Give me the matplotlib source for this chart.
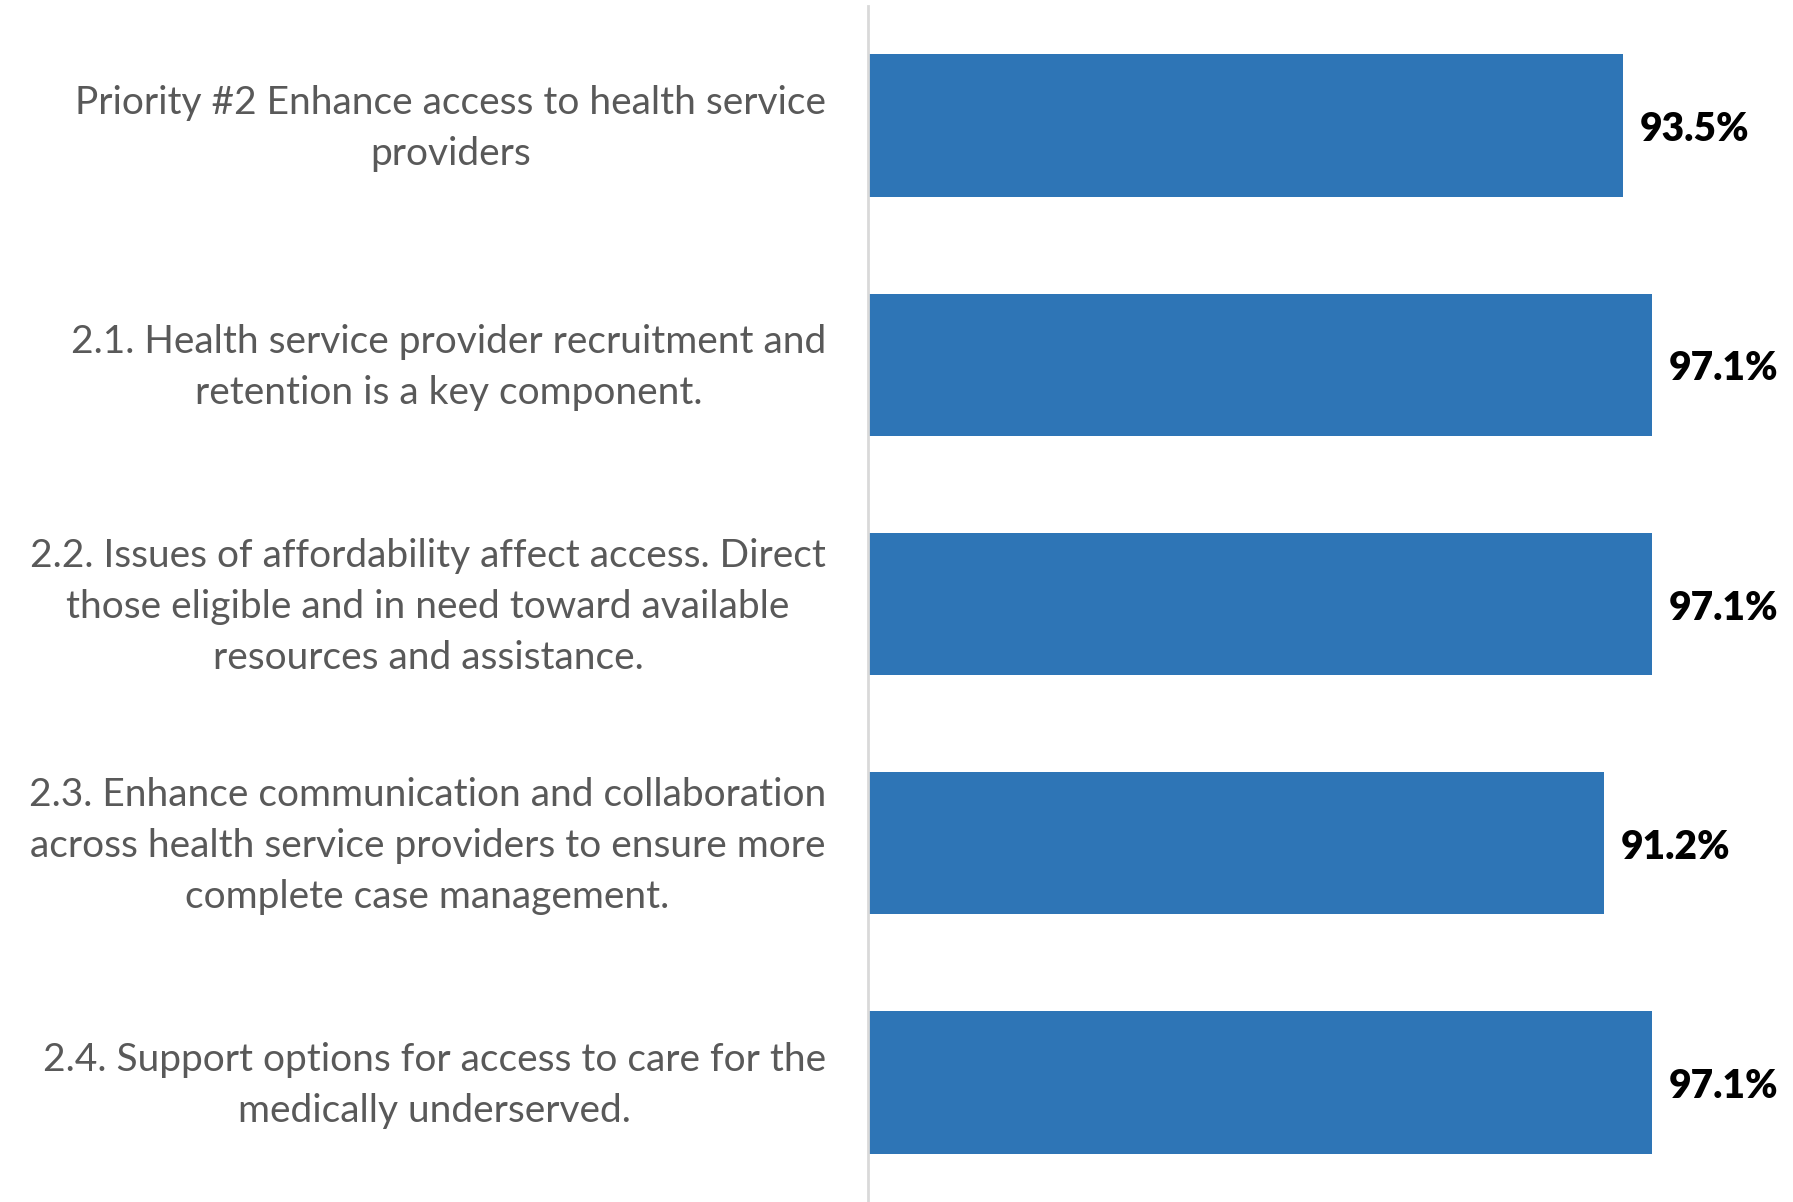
import matplotlib.pyplot as plt
from matplotlib import transforms

categories = [
    "Priority #2 Enhance access to health service\nproviders",
    "2.1. Health service provider recruitment and\nretention is a key component.",
    "2.2. Issues of affordability affect access. Direct\nthose eligible and in need toward available\nresources and assistance.",
    "2.3. Enhance communication and collaboration\nacross health service providers to ensure more\ncomplete case management.",
    "2.4. Support options for access to care for the\nmedically underserved.",
]
values = [93.5, 97.1, 97.1, 91.2, 97.1]
value_labels = ["93.5%", "97.1%", "97.1%", "91.2%", "97.1%"]

plt.rcParams['font.family'] = ['Lato', 'DejaVu Sans']

fig = plt.figure(figsize=(17.93, 12.02), dpi=100)
ax = fig.add_axes([868 / 1793, 0.0, 1 - 868 / 1793, 1 - 6 / 1202])

ypos = list(range(len(values)))
ax.barh(ypos, values, height=0.595, color="#2E75B6")
ax.set_xlim(0, 114.6)
ax.set_ylim(len(values) - 0.5, -0.5)

for s in ["top", "right", "bottom"]:
    ax.spines[s].set_visible(False)
ax.spines["left"].set_color("#D9D9D9")
ax.spines["left"].set_linewidth(2)
ax.set_xticks([])
ax.set_yticks([])

# category labels, block right-aligned, lines centred
off = transforms.offset_copy(ax.transData, fig=fig, x=-42, y=-3, units="dots")
for y, lab in zip(ypos, categories):
    ax.text(0, y, lab, transform=off, ha="right", va="center",
            multialignment="center", fontsize=28, color="#595959",
            linespacing=1.52)

for y, v, t in zip(ypos, values, value_labels):
    ax.annotate(t, (v, y), xytext=(12, -3), textcoords="offset points",
                ha="left", va="center", fontsize=28, fontweight="heavy",
                color="black")

fig.savefig("out.png", dpi=100)
